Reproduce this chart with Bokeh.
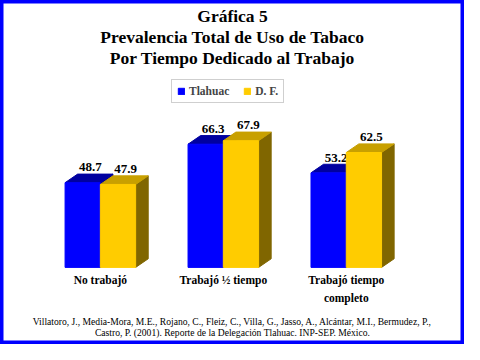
from bokeh.plotting import figure
from bokeh.models import Range1d, Legend, LegendItem
from bokeh.core.properties import value
from bokeh.embed import file_html
from bokeh.resources import INLINE

# ---- data ----
categories = ["No trabajó", "Trabajó ½ tiempo", "Trabajó tiempo\ncompleto"]
tlahuac = [48.7, 66.3, 53.2]
df_vals = [47.9, 67.9, 62.5]
series_names = ["Tlahuac", "D. F."]
title_lines = ["Gráfica 5", "Prevalencia Total de Uso de Tabaco", "Por Tiempo Dedicado al Trabajo"]
footer_lines = [
    "Villatoro, J., Media-Mora, M.E., Rojano, C., Fleiz, C., Villa, G., Jasso, A., Alcántar, M.I., Bermudez, P.,",
    "Castro, P. (2001). Reporte de la Delegación Tlahuac. INP-SEP. México.",
]

# ---- layout (reference is 480x360, drawn scaled into 464x344) ----
W, H = 464, 344
REF_W, REF_H = 480, 360
AXIS_MIN = 10.0          # hidden value axis starts at 10
BASE_PX = 279.3          # baseline position in reference px
PX_PER_UNIT = 2.29       # value scale
GROUP_PX = 127.2         # distance between groups
FIRST_PX = 103.3         # first group centre
BAR_W = 36.5 / GROUP_PX
DX = 13.0 / GROUP_PX
DY = 9.0 / PX_PER_UNIT

def ry(px):  # reference y pixel -> value units
    return AXIS_MIN + (BASE_PX - px) / PX_PER_UNIT

def rx(px):  # reference x pixel -> group units
    return (px - FIRST_PX) / GROUP_PX

x_range = Range1d(rx(0), rx(REF_W))
y_range = Range1d(ry(REF_H), ry(0))

p = figure(width=W, height=H, x_range=x_range, y_range=y_range,
           output_backend="svg", toolbar_location=None, min_border=0)
p.axis.visible = False
p.grid.visible = False
p.outline_line_color = "#0000FF"
p.outline_line_width = 6
p.background_fill_color = "white"
p.border_fill_color = "white"

FONT = "Liberation Serif"
SERIF = value(FONT)

colors = {
    0: ("#0000FF", "#0000A0", "#000080"),
    1: ("#FFCC00", "#C8A000", "#806600"),
}

front_renderers = []
for s, vals in enumerate([tlahuac, df_vals]):
    front, top_c, side_c = colors[s]
    lefts = [i - BAR_W if s == 0 else i for i in range(len(vals))]
    rights = [l + BAR_W for l in lefts]
    side_xs = [[r, r + DX, r + DX, r] for r in rights]
    side_ys = [[AXIS_MIN, AXIS_MIN + DY, v + DY, v] for v in vals]
    top_xs = [[l, r, r + DX, l + DX] for l, r in zip(lefts, rights)]
    top_ys = [[v, v, v + DY, v + DY] for v in vals]
    p.patches(side_xs, side_ys, fill_color=side_c, line_color=side_c)
    p.patches(top_xs, top_ys, fill_color=top_c, line_color=top_c)
    r = p.quad(left=lefts, right=rights, bottom=AXIS_MIN, top=vals,
               fill_color=front, line_color=front)
    front_renderers.append(r)
    # value labels
    p.text(x=[(l + rr) / 2 + DX * 0.6 for l, rr in zip(lefts, rights)],
           y=[v + DY + 1.2 for v in vals],
           text=[f"{v:.1f}" for v in vals],
           text_align="center", text_baseline="bottom",
           text_font=SERIF, text_font_style="bold", text_font_size="13px",
           text_color="black")

# category labels
p.text(x=list(range(len(categories))), y=[ry(286)] * len(categories), text=categories,
       text_align="center", text_baseline="top", text_line_height=1.5,
       text_font=SERIF, text_font_style="bold", text_font_size="11.5px",
       text_color="black")

# title
xc = rx(REF_W / 2)
for k, (t, py) in enumerate(zip(title_lines, [16, 38, 60])):
    p.text(x=[xc], y=[ry(py)], text=[t], text_align="center", text_baseline="middle",
           text_font=SERIF, text_font_style="bold", text_font_size="17.5px",
           text_color="black")

# footer
for t, py in zip(footer_lines, [335.7, 347.3]):
    p.text(x=[xc], y=[ry(py)], text=[t], text_align="center", text_baseline="middle",
           text_font=SERIF, text_font_size="9.6px", text_color="black")

legend = Legend(items=[LegendItem(label=series_names[0], renderers=[front_renderers[0]]),
                       LegendItem(label=series_names[1], renderers=[front_renderers[1]])],
                orientation="horizontal", location=(171, 241),
                glyph_width=8, glyph_height=8, label_height=8, label_standoff=4,
                spacing=14, padding=5, margin=0,
                label_text_font=FONT, label_text_font_style="bold",
                label_text_font_size="11.5px",
                border_line_color="#A0A0A0", border_line_width=1)
p.add_layout(legend)

open("out.html", "w").write(file_html(p, INLINE))
